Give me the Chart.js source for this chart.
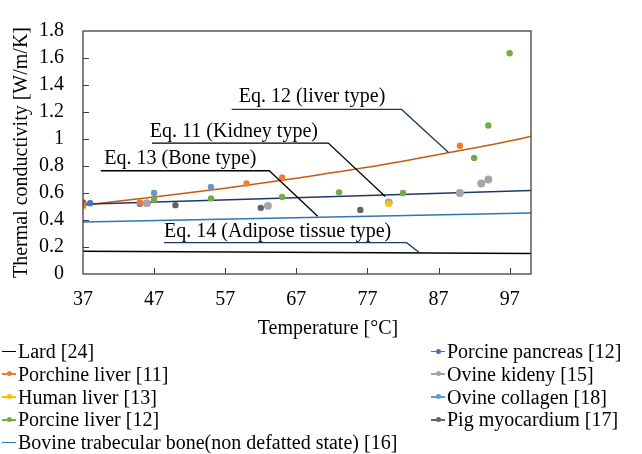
<!DOCTYPE html>
<html lang="en">
<head>
<meta charset="utf-8"/>
<title>Thermal conductivity vs temperature</title>
<script src="https://cdn.jsdelivr.net/npm/chart.js"></script>
<style>
    body {
        margin: 0;
        background: #ffffff;
        font-family: 'Liberation Serif', 'Times New Roman', serif;
        color: #000000;
    }
    .wrap {
        position: relative;
        width: 642px;
        height: 454px;
        overflow: hidden;
    }
    #chart {
        position: absolute;
        left: 0;
        top: 0;
    }
    .legend {
        position: absolute;
        top: 340px;
        font-size: 20px;
        white-space: nowrap;
    }
    .legend-left { left: 2px; }
    .legend-right { left: 431px; }
    .item {
        display: flex;
        align-items: center;
        height: 22.8px;
    }
    .mark {
        position: relative;
        width: 14px;
        height: 1.5px;
        margin-right: 2px;
    }
    .mark i {
        position: absolute;
        left: 4.5px;
        top: -2px;
        width: 5px;
        height: 5px;
        border-radius: 50%;
    }
</style>
</head>
<body>
<div class="wrap">
<canvas id="chart" width="642" height="345"></canvas>
<div class="legend legend-left" id="legendLeft"></div>
<div class="legend legend-right" id="legendRight"></div>
</div>
<script>
    // axis ticks
    const xTicks = [37, 47, 57, 67, 77, 87, 97];
    const yTicks = [0, 0.2, 0.4, 0.6, 0.8, 1, 1.2, 1.4, 1.6, 1.8];
    const yTickLabels = ['0', '0.2', '0.4', '0.6', '0.8', '1', '1.2', '1.4', '1.6', '1.8'];

    // model curves
    const lardX = [37, 100];
    const lardY = [0.168, 0.152];
    const boneX = [37, 100];
    const boneY = [0.385, 0.452];
    const kidneyX = [37, 100];
    const kidneyY = [0.516, 0.619];
    const liverX = [37, 47, 57, 67, 77, 87, 97, 100];
    const liverY = [0.51, 0.57, 0.635, 0.71, 0.79, 0.885, 0.985, 1.02];

    // measured points
    const porchineLiverX = [37, 45, 60, 65, 90];
    const porchineLiverY = [0.51, 0.53, 0.67, 0.715, 0.95];
    const humanLiverX = [37, 80];
    const humanLiverY = [0.50, 0.52];
    const porcineLiverX = [47, 55, 65, 73, 82, 92, 94, 97];
    const porcineLiverY = [0.55, 0.56, 0.57, 0.605, 0.60, 0.86, 1.10, 1.635];
    const pancreasX = [38, 45];
    const pancreasY = [0.525, 0.52];
    const ovineKidneyX = [46, 63, 80, 90, 93, 94];
    const ovineKidneyY = [0.525, 0.505, 0.53, 0.60, 0.67, 0.70];
    const ovineKidneyJoined = [false, false, false, false, true];
    const collagenX = [47, 55];
    const collagenY = [0.60, 0.645];
    const myocardiumX = [37, 50, 62, 76];
    const myocardiumY = [0.53, 0.51, 0.49, 0.475];

    const zip = (xs, ys) => xs.map((x, i) => ({ x: x, y: ys[i] }));
    const font = { family: "'Liberation Serif', 'Times New Roman', serif", size: 20 };

    function lineSet(label, xs, ys, color, extra) {
        return Object.assign({
            label: label,
            data: zip(xs, ys),
            showLine: true,
            borderColor: color,
            borderWidth: 1.5,
            pointRadius: 0,
            order: 2
        }, extra || {});
    }
    function pointSet(label, xs, ys, color, extra) {
        return Object.assign({
            label: label,
            data: zip(xs, ys),
            backgroundColor: color,
            borderColor: color,
            borderWidth: 0,
            pointRadius: 3.2,
            showLine: false,
            order: 1
        }, extra || {});
    }

    const datasets = [
        lineSet('Lard [24]', lardX, lardY, '#000000', { legend: 'left' }),
        pointSet('Porchine liver [11]', porchineLiverX, porchineLiverY, '#ED7D31', { legend: 'left' }),
        pointSet('Human liver [13]', humanLiverX, humanLiverY, '#FFC000', { legend: 'left' }),
        pointSet('Porcine liver [12]', porcineLiverX, porcineLiverY, '#70AD47', { legend: 'left' }),
        lineSet('Bovine trabecular bone(non defatted state) [16]', boneX, boneY, '#2E75B6', { legend: 'left' }),
        pointSet('Porcine pancreas [12]', pancreasX, pancreasY, '#4472C4', { legend: 'right' }),
        pointSet('Ovine kideny [15]', ovineKidneyX, ovineKidneyY, '#A5A5A5', {
            legend: 'right',
            showLine: true,
            borderWidth: 1.5,
            segment: {
                borderColor: ctx => ovineKidneyJoined[ctx.p0DataIndex] ? '#A5A5A5' : 'rgba(0,0,0,0)'
            }
        }),
        pointSet('Ovine collagen [18]', collagenX, collagenY, '#5B9BD5', { legend: 'right' }),
        pointSet('Pig myocardium [17]', myocardiumX, myocardiumY, '#636363', { legend: 'right' }),
        lineSet('Eq. 11', kidneyX, kidneyY, '#203864'),
        lineSet('Eq. 12', liverX, liverY, '#C55A11', { cubicInterpolationMode: 'monotone' })
    ];

    // callout labels: text start / baseline, underline and leader end, in data units
    const callouts = [
        { text: 'Eq. 12 (liver type)', tx: 58.9, ty: 1.273, ux0: 57.9, ux1: 81.8, uy: 1.219, ex: 88.4, ey: 0.90, color: '#203864' },
        { text: 'Eq. 11 (Kidney type)', tx: 46.4, ty: 1.016, ux0: 46.7, ux1: 71.5, uy: 0.970, ex: 79.5, ey: 0.574, color: '#000000' },
        { text: 'Eq. 13 (Bone type)', tx: 40.0, ty: 0.818, ux0: 39.5, ux1: 63.2, uy: 0.765, ex: 70.0, ey: 0.428, color: '#000000' },
        { text: 'Eq. 14 (Adipose tissue type)', tx: 48.4, ty: 0.272, ux0: 48.4, ux1: 82.5, uy: 0.232, ex: 84.2, ey: 0.163, color: '#203864' }
    ];

    const decorations = {
        id: 'decorations',
        afterDatasetsDraw(chart) {
            const ctx = chart.ctx;
            const a = chart.chartArea;
            const sx = chart.scales.x;
            const sy = chart.scales.y;
            ctx.save();
            // plot border
            ctx.strokeStyle = '#404040';
            ctx.lineWidth = 1.3;
            ctx.strokeRect(a.left, a.top, a.right - a.left, a.bottom - a.top);
            // inside tick marks
            ctx.beginPath();
            xTicks.slice(1).forEach(v => {
                const px = Math.round(sx.getPixelForValue(v)) + 0.5;
                ctx.moveTo(px, a.bottom);
                ctx.lineTo(px, a.bottom - 6);
            });
            yTicks.slice(1, -1).forEach(v => {
                const py = Math.round(sy.getPixelForValue(v)) + 0.5;
                ctx.moveTo(a.left, py);
                ctx.lineTo(a.left + 6, py);
            });
            ctx.lineWidth = 1;
            ctx.stroke();
            // callouts
            ctx.font = "20px 'Liberation Serif', 'Times New Roman', serif";
            ctx.textBaseline = 'alphabetic';
            ctx.textAlign = 'left';
            callouts.forEach(c => {
                ctx.fillStyle = '#000000';
                ctx.fillText(c.text, sx.getPixelForValue(c.tx), sy.getPixelForValue(c.ty));
                ctx.beginPath();
                ctx.moveTo(sx.getPixelForValue(c.ux0), sy.getPixelForValue(c.uy));
                ctx.lineTo(sx.getPixelForValue(c.ux1), sy.getPixelForValue(c.uy));
                ctx.lineTo(sx.getPixelForValue(c.ex), sy.getPixelForValue(c.ey));
                ctx.strokeStyle = c.color;
                ctx.lineWidth = 1.3;
                ctx.stroke();
            });
            // x axis title
            ctx.textAlign = 'center';
            ctx.textBaseline = 'middle';
            ctx.fillText('Temperature [°C]', (a.left + a.right) / 2 + 21, 329);
            ctx.restore();
        }
    };

    const chart = new Chart(document.getElementById('chart'), {
        type: 'scatter',
        data: { datasets: datasets },
        options: {
            responsive: false,
            animation: false,
            events: [],
            layout: { padding: { top: 16, right: 111, left: 0, bottom: 0 } },
            scales: {
                x: {
                    type: 'linear',
                    min: 37,
                    max: 100,
                    afterBuildTicks: s => { s.ticks = xTicks.map(v => ({ value: v })); },
                    afterFit: s => { s.height = 71; },
                    grid: { display: false, drawTicks: false },
                    border: { display: false },
                    ticks: { font: font, color: '#000000', padding: 14, maxRotation: 0, autoSkip: false }
                },
                y: {
                    min: 0,
                    max: 1.8,
                    afterBuildTicks: s => { s.ticks = yTicks.map(v => ({ value: v })); },
                    afterFit: s => { s.width = 83; },
                    grid: { display: false, drawTicks: false },
                    border: { display: false },
                    ticks: {
                        font: font,
                        color: '#000000',
                        padding: 19,
                        autoSkip: false,
                        callback: (v, i) => yTickLabels[i]
                    },
                    title: {
                        display: true,
                        text: 'Thermal conductivity [W/m/K]',
                        font: font,
                        color: '#000000',
                        padding: { top: 10, bottom: 0 }
                    }
                }
            },
            plugins: {
                legend: { display: false },
                tooltip: { enabled: false }
            }
        },
        plugins: [decorations]
    });

    // two-column legend under the chart
    chart.data.datasets.filter(d => d.legend).forEach(d => {
        const row = document.createElement('div');
        row.className = 'item';
        const mark = document.createElement('span');
        mark.className = 'mark';
        mark.style.background = d.borderColor;
        if (d.pointRadius > 0) {
            const dot = document.createElement('i');
            dot.style.background = d.backgroundColor;
            mark.appendChild(dot);
        }
        row.appendChild(mark);
        row.appendChild(document.createTextNode(d.label));
        document.getElementById(d.legend === 'left' ? 'legendLeft' : 'legendRight').appendChild(row);
    });
</script>
</body>
</html>
